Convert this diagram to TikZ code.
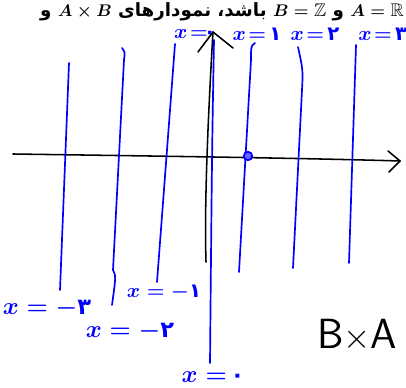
\documentclass[tikz,border=0pt]{standalone}
\usepackage{amsmath,amssymb}
\usepackage{fontspec}
\newfontfamily\arabicfont[Script=Arabic]{DejaVu Sans}
\TeXXeTstate=1
\usetikzlibrary{calc}
\tikzset{
  axisl/.style={draw=black, line width=1.1pt},
  fibre/.style={draw=blue, line width=1.2pt},
  lbl/.style={text=blue, font=\fontsize{14}{15}\selectfont\boldmath, inner sep=0pt},
  lblbig/.style={lbl, font=\fontsize{16}{17}\selectfont\boldmath},
  headtxt/.style={font=\fontsize{13}{15}\selectfont\bfseries\boldmath, inner sep=0pt},
  dotv/.style={circle, draw=blue, fill=blue!60, line width=1.2pt, inner sep=0pt, minimum size=6pt},
  every picture/.style={line cap=round, line join=round}
}
\newcommand{\pd}[1]{{\arabicfont\bfseries #1}}

\begin{document}
\begin{tikzpicture}[x=0.25mm, y=-0.25mm]
  \useasboundingbox (0,0) rectangle (406,388);

  % heading
  \node[headtxt, anchor=base east] (head) at (404,17)
    {\arabicfont\beginR\beginL$A=\mathbb{R}$\endL{} و \beginL$B=\mathbb{Z}$\endL{} باشد، نمودارهای \beginL$A\times B$\endL{} و\endR};

  % axes
  \coordinate (xl) at (13,154);
  \coordinate (xr) at (400,161);
  \coordinate (yb) at (206,262);
  \coordinate (yt) at (213,32);
  \draw[axisl] (xl) .. controls (150,156) and (300,158) .. (xr);
  \draw[axisl] (388,151) -- (xr) -- (389,172);
  \draw[axisl] (yb) .. controls (204,200) and (209,100) .. (yt);
  \draw[axisl] (198,52) -- (yt) -- (233,48);

  % vertical lines x = n
  \draw[fibre] (69,63) -- (60,290);
  \draw[fibre] (122,48) .. controls (125,52) .. (124,60) -- (113,270)
    .. controls (116,276) .. (112,305);
  \draw[fibre] (175,44) -- (157,282);
  \draw[fibre] (214,40) .. controls (212,150) .. (210,363);
  \draw[fibre] (255,43) .. controls (251,46) .. (251,60) -- (239,272);
  \draw[fibre] (298,47) .. controls (303,70) .. (302,90) -- (293,268);
  \draw[fibre] (356,45) -- (349,263);

  % point (1,0)
  \node[dotv] (p) at (248,156) {};

  % labels, top
  \node[lbl] (l0t) at (195,34) {$x\!=\!$\pd{۰}};
  \node[lbl] (l1) at (257,34) {$x\!=$\,\pd{۱}};
  \node[lbl] (l2) at (315,34) {$x\!=$\,\pd{۲}};
  \node[lbl, anchor=west] (l3) at (358,34) {$x\!=$\,\pd{۳}};

  % labels, bottom
  \node[lblbig] (lm3) at (47,308) {$x=-$\pd{۳}};
  \node[lblbig] (lm2) at (130,331) {$x=-$\pd{۲}};
  \node[lbl] (lm1) at (164,292) {$x=-$\pd{۱}};
  \node[lblbig] (l0b) at (213,377) {$x=$\,\pd{۰}};

  % name of the graph
  \node[font=\fontsize{30}{32}\selectfont\sffamily, inner sep=0pt] (bxa) at (357,335) {B$\times$A};
\end{tikzpicture}
\end{document}
